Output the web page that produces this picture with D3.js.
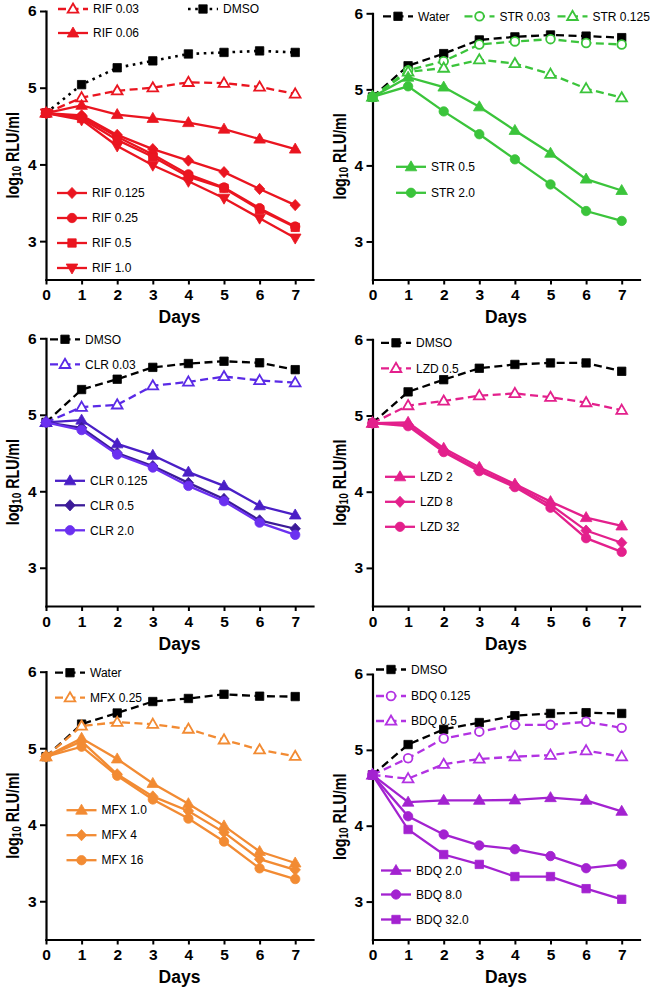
<!DOCTYPE html>
<html><head><meta charset="utf-8">
<script src="https://cdn.jsdelivr.net/npm/d3@7"></script>
<style>
body{margin:0;background:#fff}
svg{display:block}
text{font-family:Arial,"Liberation Sans",sans-serif}
</style>
</head><body>
<svg id="c" width="652" height="994"></svg>
<script>
// ---------------- data ----------------
const days = [0, 1, 2, 3, 4, 5, 6, 7];
const yTicks = [3, 4, 5, 6];
const xLabel = "Days";

// Panel 1 : rifampicin
const rifDMSO = [4.67, 5.04, 5.26, 5.35, 5.44, 5.46, 5.48, 5.46];
const rif003  = [4.67, 4.87, 4.96, 5.00, 5.07, 5.06, 5.01, 4.92];
const rif006  = [4.67, 4.77, 4.65, 4.60, 4.545, 4.46, 4.33, 4.20];
const rif0125 = [4.67, 4.64, 4.385, 4.20, 4.05, 3.90, 3.68, 3.47];
const rif025  = [4.67, 4.62, 4.36, 4.13, 3.87, 3.70, 3.43, 3.19];
const rif05   = [4.67, 4.60, 4.32, 4.10, 3.84, 3.69, 3.41, 3.18];
const rif1    = [4.67, 4.58, 4.24, 3.99, 3.78, 3.56, 3.30, 3.04];

// Panel 2 : streptomycin
const strWater = [4.9, 5.31, 5.47, 5.65, 5.69, 5.715, 5.70, 5.68];
const str003   = [4.9, 5.25, 5.37, 5.59, 5.63, 5.66, 5.61, 5.59];
const str0125  = [4.9, 5.23, 5.28, 5.39, 5.34, 5.20, 5.01, 4.89];
const str05    = [4.9, 5.16, 5.03, 4.77, 4.46, 4.16, 3.82, 3.67];
const str2     = [4.9, 5.04, 4.71, 4.41, 4.08, 3.75, 3.40, 3.27];

// Panel 3 : clarithromycin
const clrDMSO = [4.9, 5.33, 5.465, 5.62, 5.67, 5.70, 5.68, 5.59];
const clr003  = [4.9, 5.10, 5.13, 5.38, 5.43, 5.50, 5.45, 5.42];
const clr0125 = [4.9, 4.93, 4.62, 4.47, 4.25, 4.07, 3.81, 3.69];
const clr05   = [4.9, 4.83, 4.50, 4.33, 4.11, 3.90, 3.62, 3.51];
const clr2    = [4.9, 4.80, 4.48, 4.31, 4.07, 3.87, 3.59, 3.43];

// Panel 4 : linezolid
const lzdDMSO = [4.9, 5.31, 5.47, 5.62, 5.67, 5.69, 5.69, 5.58];
const lzd05   = [4.9, 5.13, 5.19, 5.26, 5.29, 5.24, 5.17, 5.07];
const lzd2    = [4.9, 4.91, 4.57, 4.32, 4.10, 3.87, 3.66, 3.55];
const lzd8    = [4.9, 4.88, 4.54, 4.29, 4.08, 3.83, 3.49, 3.33];
const lzd32   = [4.9, 4.86, 4.52, 4.27, 4.06, 3.79, 3.39, 3.21];

// Panel 5 : moxifloxacin
const mfxWater = [4.89, 5.315, 5.46, 5.61, 5.65, 5.705, 5.68, 5.675];
const mfx025   = [4.89, 5.29, 5.34, 5.315, 5.25, 5.11, 4.98, 4.895];
const mfx1     = [4.89, 5.13, 4.86, 4.54, 4.275, 3.985, 3.65, 3.50];
const mfx4     = [4.89, 5.09, 4.66, 4.37, 4.18, 3.90, 3.55, 3.41];
const mfx16    = [4.89, 5.02, 4.64, 4.33, 4.08, 3.78, 3.43, 3.29];

// Panel 6 : bedaquiline
const bdqDMSO = [4.67, 5.07, 5.27, 5.36, 5.45, 5.48, 5.49, 5.48];
const bdq0125 = [4.67, 4.89, 5.15, 5.24, 5.33, 5.33, 5.37, 5.29];
const bdq05   = [4.67, 4.62, 4.81, 4.88, 4.91, 4.93, 4.99, 4.91];
const bdq2    = [4.67, 4.31, 4.335, 4.335, 4.34, 4.37, 4.335, 4.19];
const bdq8    = [4.67, 4.125, 3.885, 3.74, 3.69, 3.60, 3.44, 3.49];
const bdq32   = [4.67, 3.95, 3.62, 3.49, 3.33, 3.33, 3.17, 3.03];

// ---------------- styles / layout ----------------
const BLACK = "#000000";
const RED = "#ea1520";
const GREEN = "#3bc43b";
const CLR_A = "#5a2ae6", CLR_B = "#4a1fc6", CLR_C = "#3c1b98", CLR_D = "#6b30f0";
const PINK = "#e3208c";
const ORANGE = "#f28b33";
const PURPLE = "#a322d0", PURPLE_L = "#b232e2";

const DASH = "8,4.5";
const DOT = "2.6,4.6";

function S(name, values, color, marker, opts) {
  return Object.assign({name, values, color, marker, dash: null, open: false}, opts);
}

const panels = [
  {x0: 46, top: 11, bottom: 279.5, series: [
    S("DMSO", rifDMSO, BLACK, "square", {dash: DOT, leg: [142, -2]}),
    S("RIF 0.03", rif003, RED, "tri", {dash: DASH, open: true, leg: [12, -2]}),
    S("RIF 0.06", rif006, RED, "tri", {leg: [12, 22]}),
    S("RIF 0.125", rif0125, RED, "diamond", {leg: [11, 182]}),
    S("RIF 1.0", rif1, RED, "tridown", {leg: [11, 257]}),
    S("RIF 0.25", rif025, RED, "circle", {leg: [11, 207]}),
    S("RIF 0.5", rif05, RED, "square", {leg: [11, 232]})
  ]},
  {x0: 372.5, top: 13.3, bottom: 279.5, series: [
    S("Water", strWater, BLACK, "square", {dash: DASH, leg: [10.5, 3]}),
    S("STR 0.03", str003, GREEN, "circle", {dash: DASH, open: true, leg: [92, 3]}),
    S("STR 0.125", str0125, GREEN, "tri", {dash: DASH, open: true, leg: [185, 3]}),
    S("STR 0.5", str05, GREEN, "tri", {leg: [23.5, 153.5]}),
    S("STR 2.0", str2, GREEN, "circle", {leg: [23.5, 179.5]})
  ]},
  {x0: 46, top: 338.3, bottom: 606, series: [
    S("DMSO", clrDMSO, BLACK, "square", {dash: DASH, leg: [4, 1]}),
    S("CLR 0.03", clr003, CLR_A, "tri", {dash: DASH, open: true, leg: [4, 26]}),
    S("CLR 0.125", clr0125, CLR_B, "tri", {leg: [9, 142.5]}),
    S("CLR 0.5", clr05, CLR_C, "diamond", {leg: [9, 167]}),
    S("CLR 2.0", clr2, CLR_D, "circle", {leg: [9, 192]})
  ]},
  {x0: 372.5, top: 339.3, bottom: 606, series: [
    S("DMSO", lzdDMSO, BLACK, "square", {dash: DASH, leg: [8.5, 3.5]}),
    S("LZD 0.5", lzd05, PINK, "tri", {dash: DASH, open: true, leg: [8.5, 29]}),
    S("LZD 2", lzd2, PINK, "tri", {leg: [12.5, 137.5]}),
    S("LZD 8", lzd8, PINK, "diamond", {leg: [12.5, 162.5]}),
    S("LZD 32", lzd32, PINK, "circle", {leg: [12.5, 187.5]})
  ]},
  {x0: 46, top: 671.7, bottom: 939.5, series: [
    S("Water", mfxWater, BLACK, "square", {dash: DASH, leg: [9, 1]}),
    S("MFX 0.25", mfx025, ORANGE, "tri", {dash: DASH, open: true, leg: [9, 26]}),
    S("MFX 1.0", mfx1, ORANGE, "tri", {leg: [20.5, 138.5]}),
    S("MFX 4", mfx4, ORANGE, "diamond", {leg: [20.5, 163.5]}),
    S("MFX 16", mfx16, ORANGE, "circle", {leg: [20.5, 188.5]})
  ]},
  {x0: 372.5, top: 674, bottom: 939.5, series: [
    S("DMSO", bdqDMSO, BLACK, "square", {dash: DASH, leg: [3.5, -4.5]}),
    S("BDQ 0.125", bdq0125, PURPLE_L, "circle", {dash: DASH, open: true, leg: [3.5, 22]}),
    S("BDQ 0.5", bdq05, PURPLE_L, "tri", {dash: DASH, open: true, leg: [3.5, 47]}),
    S("BDQ 2.0", bdq2, PURPLE, "tri", {leg: [8.5, 196.5]}),
    S("BDQ 8.0", bdq8, PURPLE, "circle", {leg: [8.5, 220.5]}),
    S("BDQ 32.0", bdq32, PURPLE, "square", {leg: [8.5, 245.5]})
  ]}
];

const PLOT_W = 267;
const LEG_LEN = 30;

function markerPath(type, open) {
  const k = open ? 0.92 : 1;
  switch (type) {
    case "square": return `M${-4.2*k},${-4.2*k}H${4.2*k}V${4.2*k}H${-4.2*k}Z`;
    case "tri": return `M0,${-6*k}L${5.8*k},${4*k}L${-5.8*k},${4*k}Z`;
    case "tridown": return `M0,${6*k}L${5.8*k},${-4*k}L${-5.8*k},${-4*k}Z`;
    case "diamond": return `M0,${-5.6*k}L${5.2*k},0L0,${5.6*k}L${-5.2*k},0Z`;
    case "circle": { const r = 4.7*k; return `M${r},0A${r},${r} 0 1 1 ${-r},0A${r},${r} 0 1 1 ${r},0Z`; }
  }
}

const svg = d3.select("#c");

panels.forEach(p => {
  const g = svg.append("g");
  const x = d3.scaleLinear().domain([0, 7.5]).range([p.x0, p.x0 + PLOT_W]);
  const y = d3.scaleLinear().domain([2.5, 6]).range([p.bottom, p.top]);

  // axes
  const ax = g.append("g").attr("transform", `translate(0,${p.bottom})`)
    .call(d3.axisBottom(x).tickValues(days).tickFormat(d3.format("d"))
      .tickSize(5).tickSizeOuter(0).tickPadding(4.5));
  const ay = g.append("g").attr("transform", `translate(${p.x0},0)`)
    .call(d3.axisLeft(y).tickValues(yTicks).tickFormat(d3.format("d"))
      .tickSize(6).tickSizeOuter(0).tickPadding(3.5));
  [ax, ay].forEach(a => {
    a.select(".domain").attr("stroke", "#000").attr("stroke-width", 2.2).attr("stroke-linecap", "square");
    a.selectAll(".tick line").attr("stroke", "#000").attr("stroke-width", 2);
    a.selectAll(".tick text").attr("fill", "#000").attr("font-size", 15.5).attr("font-weight", "bold")
      .attr("font-family", "Arial, 'Liberation Sans', sans-serif");
  });

  // axis titles
  g.append("text").attr("x", p.x0 + PLOT_W / 2).attr("y", p.bottom + 43.5)
    .attr("text-anchor", "middle").attr("font-size", 17.5).attr("font-weight", "bold").text(xLabel);
  const yt = g.append("text")
    .attr("transform", `translate(${p.x0 - 27},${(p.top + p.bottom) / 2 + 10}) rotate(-90) scale(0.77,1)`)
    .attr("text-anchor", "middle").attr("font-size", 18.5).attr("font-weight", "bold");
  yt.append("tspan").text("log");
  yt.append("tspan").attr("font-size", 13).attr("dy", 2).text("10");
  yt.append("tspan").attr("dy", -2).text(" RLU/ml");

  const line = d3.line().x((d, i) => x(days[i])).y(d => y(d));

  // series
  p.series.forEach(s => {
    const sg = g.append("g");
    sg.append("path").attr("d", line(s.values)).attr("fill", "none")
      .attr("stroke", s.color).attr("stroke-width", s.dash === DOT ? 2.6 : 2.3)
      .attr("stroke-dasharray", s.dash);
    sg.selectAll("path.m").data(s.values).join("path").attr("class", "m")
      .attr("transform", (d, i) => `translate(${x(days[i])},${y(d)})`)
      .attr("d", markerPath(s.marker, s.open))
      .attr("fill", s.open ? "#fff" : s.color)
      .attr("stroke", s.color).attr("stroke-width", s.open ? 1.8 : 0.8);

    // legend
    const lx = p.x0 + s.leg[0], ly = p.top + s.leg[1];
    const lg = g.append("g");
    lg.append("line").attr("x1", lx).attr("x2", lx + LEG_LEN).attr("y1", ly).attr("y2", ly)
      .attr("stroke", s.color).attr("stroke-width", s.dash === DOT ? 2.6 : 2.3)
      .attr("stroke-dasharray", s.dash);
    lg.append("path").attr("transform", `translate(${lx + LEG_LEN / 2},${ly})`)
      .attr("d", markerPath(s.marker, s.open))
      .attr("fill", s.open ? "#fff" : s.color)
      .attr("stroke", s.color).attr("stroke-width", s.open ? 1.8 : 0.8);
    lg.append("text").attr("x", lx + LEG_LEN + 5).attr("y", ly).attr("dy", "0.35em")
      .attr("font-size", 12).attr("fill", "#000").text(s.name);
  });
});
</script>
</body></html>
